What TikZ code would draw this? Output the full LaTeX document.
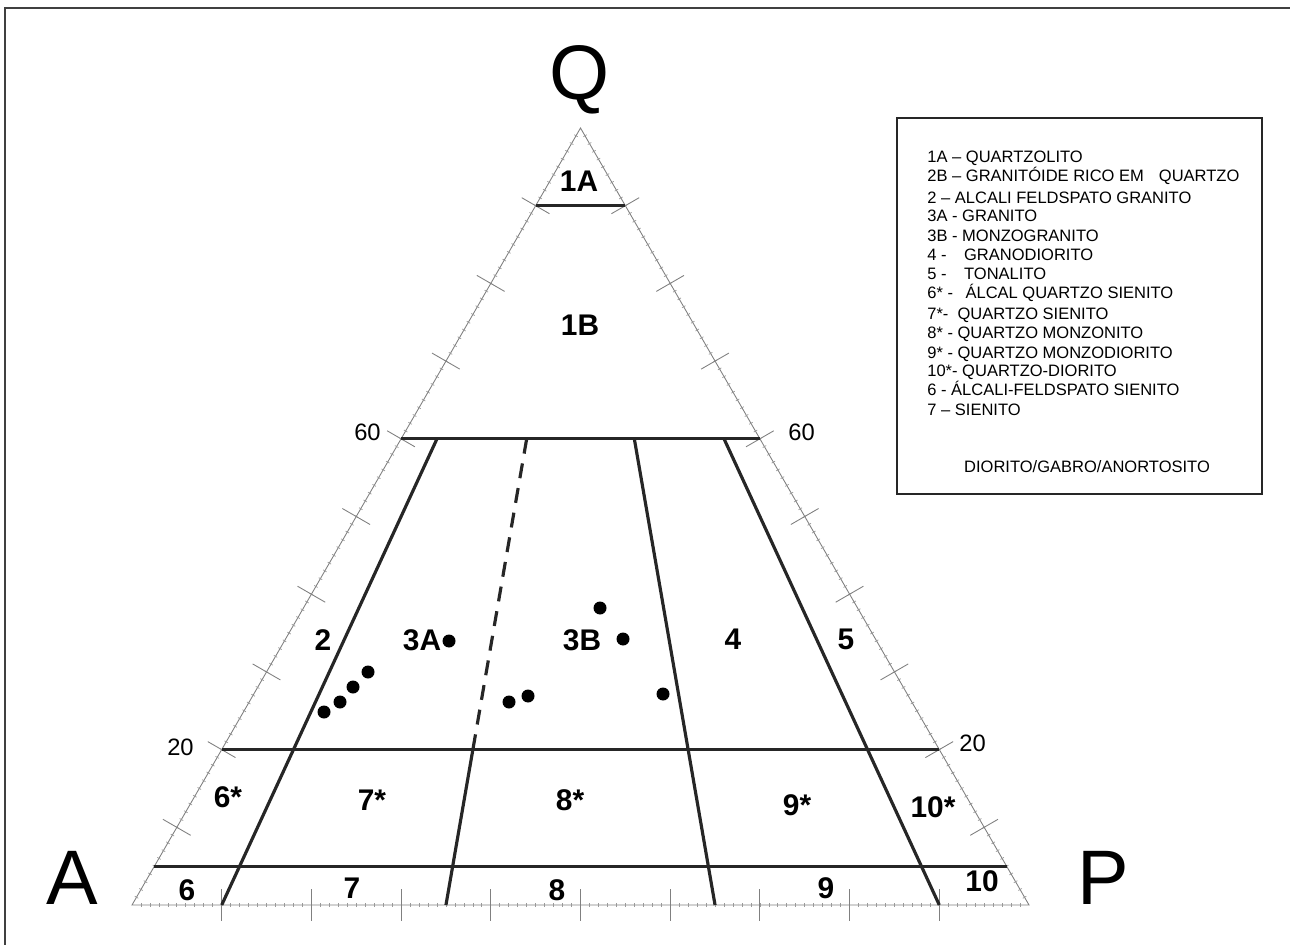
\documentclass[tikz,border=0pt]{standalone}
\usepackage{fontspec}
\setmainfont{Liberation Sans}
\usetikzlibrary{calc}
\begin{document}
\begin{tikzpicture}[x=0.02cm, y=-0.02cm,
    borda/.style={black!50, line width=0.5pt},
    miuda/.style={black!40, line width=0.4pt},
    divisa/.style={black!85, line width=1.8pt},
    rotulo/.style={font=\fontsize{17}{17}\selectfont\bfseries, inner sep=0pt},
    vertice/.style={font=\fontsize{44}{44}\selectfont, inner sep=0pt, anchor=base},
    escala/.style={font=\fontsize{13.5}{13.5}\selectfont, inner sep=0pt},
    legenda/.style={font=\fontsize{9.4}{9.4}\selectfont, inner sep=0pt, anchor=base west},
    amostra/.style={circle, fill=black, inner sep=0pt, minimum size=0.26cm}]
    \useasboundingbox (0,0) rectangle (1290,945);

    % moldura
    \draw[black!75, line width=1.2pt] (5,945) -- (5,8) -- (1290,8);

    % vertices do triangulo QAP
    \coordinate (A) at (132,905);
    \coordinate (P) at (1029,905);
    \coordinate (Q) at (580.5,128);
    \draw[borda] (A) -- (P) -- (Q) -- cycle;

    % marcas menores (1%)
    \foreach \i in {1,...,99} {
        \draw[miuda] ($(A)!\i/100!(P)$) ++(0,-2) -- ++(0,4);
        \draw[miuda] ($(A)!\i/100!(Q)$) ++(-1.7,-1) -- ++(3.5,2);
        \draw[miuda] ($(P)!\i/100!(Q)$) ++(-1.7,1) -- ++(3.5,-2);
    }
    % marcas de 10%
    \foreach \i in {1,...,9} {
        \draw[borda] ($(A)!\i/10!(P)$) ++(0,-16) -- ++(0,32);
        \draw[borda] ($(A)!\i/10!(Q)$) ++(-13.9,-8) -- ++(27.7,16);
        \draw[borda] ($(P)!\i/10!(Q)$) ++(-13.9,8) -- ++(27.7,-16);
    }

    % linhas de Q constante
    \foreach \q in {90,60,20,5}
        \draw[divisa] ($(A)!\q/100!(Q)$) -- ($(P)!\q/100!(Q)$);

    % linhas de P/(A+P) constante
    \foreach \f/\nome in {0.1/b1, 0.35/b2, 0.65/b3, 0.9/b4}
        \coordinate (\nome) at ($(A)!\f!(P)$);
    \draw[divisa] ($(Q)!0.4!(b1)$) -- (b1);
    \draw[divisa, dash pattern=on 0.3cm off 0.2cm] ($(Q)!0.4!(b2)$) -- ($(Q)!0.8!(b2)$);
    \draw[divisa] ($(Q)!0.8!(b2)$) -- (b2);
    \draw[divisa] ($(Q)!0.4!(b3)$) -- (b3);
    \draw[divisa] ($(Q)!0.4!(b4)$) -- (b4);

    % vertices (rotulos)
    \node[vertice] (lQ) at (580,100) {Q};
    \node[vertice] (lA) at (72,904) {A};
    \node[vertice] (lP) at (1103,904) {P};

    % valores da escala
    \node[escala, anchor=east] (e60a) at (381,432) {60};
    \node[escala, anchor=west] (e60b) at (788,432) {60};
    \node[escala, anchor=east] (e20a) at (194,747) {20};
    \node[escala, anchor=west] (e20b) at (959,743) {20};

    % campos
    \node[rotulo] (c1A) at (579,181) {1A};
    \node[rotulo] (c1B) at (580,325) {1B};
    \node[rotulo] (c2) at (323,640) {2};
    \node[rotulo] (c3A) at (422,640) {3A};
    \node[rotulo] (c3B) at (582,640) {3B};
    \node[rotulo] (c4) at (733,639) {4};
    \node[rotulo] (c5) at (846,639) {5};
    \node[rotulo] (c6e) at (228,797) {6*};
    \node[rotulo] (c7e) at (372,800) {7*};
    \node[rotulo] (c8e) at (570,800) {8*};
    \node[rotulo] (c9e) at (797,805) {9*};
    \node[rotulo] (c10e) at (933,807) {10*};
    \node[rotulo] (c6) at (187,890) {6};
    \node[rotulo] (c7) at (352,888) {7};
    \node[rotulo] (c8) at (557,890) {8};
    \node[rotulo] (c9) at (826,888) {9};
    \node[rotulo] (c10) at (982,881) {10};

    % amostras
    \foreach \px/\py [count=\k] in {324/712, 340/702, 353/687, 368/672, 449/641,
                                    509/702, 528/696, 600/608, 623/639, 663/694}
        \node[amostra] (am\k) at (\px,\py) {};

    % legenda
    \draw[black!85, line width=1.4pt] (897,118) rectangle (1262,494);
    \foreach \ty/\txt [count=\k] in {163/{1A – QUARTZOLITO},
            182/{2B – GRANITÓIDE RICO EM\hspace{0.3cm}QUARTZO},
            204/{2 – ALCALI FELDSPATO GRANITO},
            222/{3A - GRANITO},
            242/{3B - MONZOGRANITO},
            261/{4 -\hspace{0.35cm}GRANODIORITO},
            280/{5 -\hspace{0.35cm}TONALITO},
            299/{6* -\hspace{0.25cm}ÁLCAL QUARTZO SIENITO},
            320/{7*-\ \ QUARTZO SIENITO},
            339/{8* - QUARTZO MONZONITO},
            358/{9* - QUARTZO MONZODIORITO},
            377/{10*- QUARTZO-DIORITO},
            396/{6 - ÁLCALI-FELDSPATO SIENITO},
            416/{7 – SIENITO}}
        \node[legenda] (leg\k) at (927,\ty) {\txt};
    \node[legenda, anchor=base] (legDGA) at (1087,472) {DIORITO/GABRO/ANORTOSITO};
\end{tikzpicture}
\end{document}
